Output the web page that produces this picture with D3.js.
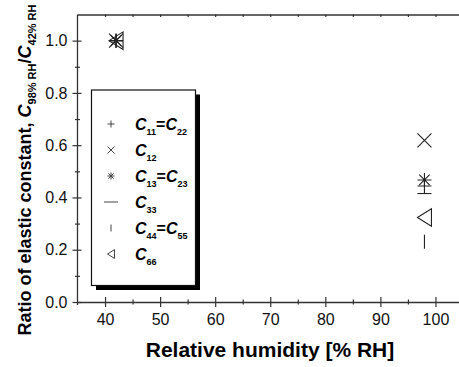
<!DOCTYPE html>
<html>
<head>
<meta charset="utf-8">
<script src="https://cdn.jsdelivr.net/npm/d3@7"></script>
<style>
  body { margin: 0; background: #fff; }
  text { font-family: "Liberation Sans", Arial, sans-serif; }
</style>
</head>
<body>
<div id="chart"></div>
<script>
// humidity of the two measurements
const humidity = [42, 98];

// ratio C(98% RH) / C(42% RH) per elastic constant
const c11 = [1.0, 0.444];
const c12 = [1.0, 0.618];
const c13 = [1.0, 0.467];
const c33 = [1.0, 0.415];
const c44 = [1.0, 0.231];
const c66 = [1.0, 0.323];

const seriesNames = ['C_11=C_22', 'C_12', 'C_13=C_23', 'C_33', 'C_44=C_55', 'C_66'];
const seriesMarkers = ['plus', 'cross', 'star', 'hline', 'vline', 'triangle'];
const seriesValues = [c11, c12, c13, c33, c44, c66];

const xTicks = [40, 50, 60, 70, 80, 90, 100];
const yTicks = [0.0, 0.2, 0.4, 0.6, 0.8, 1.0];

const width = 459, height = 367;
const margin = { top: 14.5, right: -4, bottom: 65, left: 77.5 };

const x = d3.scaleLinear()
  .domain([35, 105])
  .range([margin.left, width - margin.right]);
const y = d3.scaleLinear()
  .domain([0, 1.1])
  .range([height - margin.bottom, margin.top]);

/**
 * open marker outlines, size s = full width
 * */
function markerPath(type, s) {
  const h = s / 2;
  const p = d3.path();
  if (type === 'plus') {
    p.moveTo(-h, 0); p.lineTo(h, 0);
    p.moveTo(0, -h); p.lineTo(0, h);
  } else if (type === 'cross') {
    p.moveTo(-h, -h); p.lineTo(h, h);
    p.moveTo(-h, h); p.lineTo(h, -h);
  } else if (type === 'star') {
    p.moveTo(-h, 0); p.lineTo(h, 0);
    p.moveTo(0, -h); p.lineTo(0, h);
    p.moveTo(-h * 0.75, -h * 0.75); p.lineTo(h * 0.75, h * 0.75);
    p.moveTo(-h * 0.75, h * 0.75); p.lineTo(h * 0.75, -h * 0.75);
  } else if (type === 'hline') {
    p.moveTo(-h, 0); p.lineTo(h, 0);
  } else if (type === 'vline') {
    p.moveTo(0, -h); p.lineTo(0, h);
  } else if (type === 'triangle') {
    p.moveTo(-h, 0); p.lineTo(h, -h * 1.25); p.lineTo(h, h * 1.25); p.closePath();
  }
  return p.toString();
}

// write "C_11=C_22" style labels with subscripts
function richText(sel, label, fontSize, subSize, subShift) {
  const parts = label.split(/(C_[0-9A-Za-z% ]+)/).filter(d => d.length);
  let shifted = false;
  parts.forEach(part => {
    if (part.startsWith('C_')) {
      sel.append('tspan')
        .attr('font-style', 'italic')
        .attr('font-size', fontSize)
        .attr('dy', shifted ? -subShift : 0)
        .text('C');
      sel.append('tspan')
        .attr('font-size', subSize)
        .attr('dy', subShift)
        .text(part.slice(2));
      shifted = true;
    } else {
      sel.append('tspan')
        .attr('font-size', fontSize)
        .attr('dy', shifted ? -subShift : 0)
        .text(part);
      shifted = false;
    }
  });
}

d3.select('#chart').select('svg').remove();
const svg = d3.select('#chart').append('svg')
  .attr('width', width)
  .attr('height', height)
  .attr('viewBox', `0, 0, ${width}, ${height}`);

const axisColor = '#333';

// top frame with small inward ticks
const topG = svg.append('g')
  .attr('transform', `translate(0,${margin.top})`)
  .call(d3.axisTop(x)
    .tickValues(d3.range(40, 105, 5))
    .tickFormat('')
    .tickSizeInner(-2.5)
    .tickSizeOuter(0));

// bottom axis, major ticks crossing the line
const xAxisG = svg.append('g')
  .attr('transform', `translate(0,${y(0)})`)
  .call(d3.axisBottom(x)
    .tickValues(xTicks)
    .tickFormat(d3.format('d'))
    .tickSizeInner(5)
    .tickSizeOuter(0)
    .tickPadding(7));
xAxisG.selectAll('.tick line').attr('y1', -5).attr('y2', 5);

const xMinorG = svg.append('g')
  .attr('transform', `translate(0,${y(0)})`)
  .call(d3.axisBottom(x)
    .tickValues(d3.range(45, 105, 10))
    .tickFormat('')
    .tickSizeInner(3)
    .tickSizeOuter(0));
xMinorG.selectAll('.tick line').attr('y1', -2.5).attr('y2', 2.5);
xMinorG.select('.domain').remove();

// left axis
const yAxisG = svg.append('g')
  .attr('transform', `translate(${margin.left},0)`)
  .call(d3.axisLeft(y)
    .tickValues(yTicks)
    .tickFormat(d3.format('.1f'))
    .tickSizeInner(5)
    .tickSizeOuter(0)
    .tickPadding(5));
yAxisG.selectAll('.tick line').attr('x1', 4).attr('x2', -5);

const yMinorG = svg.append('g')
  .attr('transform', `translate(${margin.left},0)`)
  .call(d3.axisLeft(y)
    .tickValues(d3.range(0.1, 1.1, 0.2))
    .tickFormat('')
    .tickSizeInner(3)
    .tickSizeOuter(0));
yMinorG.selectAll('.tick line').attr('x1', 2.5).attr('x2', -2.5);
yMinorG.select('.domain').remove();

[topG, xAxisG, xMinorG, yAxisG, yMinorG].forEach(g => {
  g.selectAll('.domain').attr('stroke', axisColor).attr('stroke-width', 1.3);
  g.selectAll('.tick line').attr('stroke', axisColor).attr('stroke-width', 1.2);
  g.selectAll('text')
    .attr('fill', '#111')
    .style('font-size', '16px')
    .style('font-family', '"Liberation Sans", Arial, sans-serif');
});
// left axis runs slightly below the x axis
yAxisG.select('.domain').attr('d', `M0,${y(0) + 3}V${margin.top}`);

// data markers
seriesValues.forEach((vals, i) => {
  svg.append('g')
    .selectAll('path')
    .data(humidity.map((h, j) => ({ h: h, v: vals[j] })))
    .enter()
    .append('path')
    .attr('transform', d => `translate(${x(d.h)},${y(d.v)})`)
    .attr('d', markerPath(seriesMarkers[i], 14))
    .attr('fill', 'none')
    .attr('stroke', '#222')
    .attr('stroke-width', 1.1);
});

// legend box with drop shadow
const legend = { x0: 91.5, y0: 90, x1: 195.5, y1: 285.5 };
svg.append('rect')
  .attr('x', legend.x0 + 4.5)
  .attr('y', legend.y0 + 4.5)
  .attr('width', legend.x1 - legend.x0)
  .attr('height', legend.y1 - legend.y0)
  .attr('fill', '#000');
svg.append('rect')
  .attr('x', legend.x0)
  .attr('y', legend.y0)
  .attr('width', legend.x1 - legend.x0)
  .attr('height', legend.y1 - legend.y0)
  .attr('fill', '#fff')
  .attr('stroke', '#111')
  .attr('stroke-width', 1.2);

const rowY = d3.scaleLinear().domain([0, 5]).range([124, 254]);
seriesNames.forEach((name, i) => {
  const cy = rowY(i);
  svg.append('path')
    .attr('transform', `translate(111,${cy})`)
    .attr('d', markerPath(seriesMarkers[i], seriesMarkers[i] === 'hline' ? 14 : 7))
    .attr('fill', 'none')
    .attr('stroke', '#444')
    .attr('stroke-width', 1);
  const t = svg.append('text')
    .attr('x', 135)
    .attr('y', cy + 5.5)
    .attr('font-weight', 'bold')
    .attr('fill', '#000');
  richText(t, name, 16, 9, 5.5);
});

// axis titles
svg.append('text')
  .attr('x', 270)
  .attr('y', 357)
  .attr('text-anchor', 'middle')
  .attr('font-weight', 'bold')
  .style('font-size', '21px')
  .text('Relative humidity [% RH]');

const yTitle = svg.append('text')
  .attr('transform', 'translate(31,170) rotate(-90)')
  .attr('text-anchor', 'middle')
  .attr('font-weight', 'bold');
richText(yTitle, 'Ratio of elastic constant, C_98% RH/C_42% RH', 18, 11, 4.5);
</script>
</body>
</html>
